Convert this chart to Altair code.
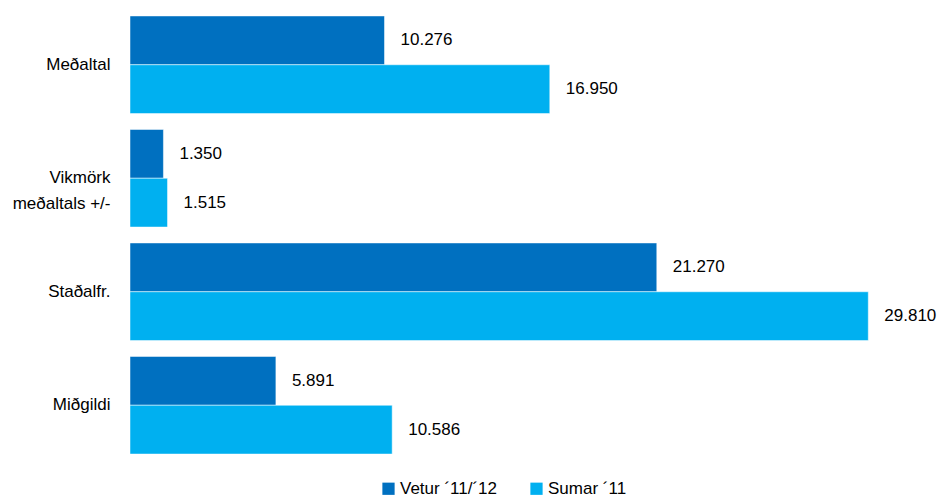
import altair as alt
import pandas as pd

categories = ["Meðaltal", "Vikmörk|meðaltals +/-", "Staðalfr.", "Miðgildi"]
series = ["Vetur ´11/´12", "Sumar ´11"]
vetur = [10276, 1350, 21270, 5891]
sumar = [16950, 1515, 29810, 10586]
colors = ["#0070C0", "#00B0F0"]

rows = []
for c, v, s in zip(categories, vetur, sumar):
    rows.append({"cat": c, "series": series[0], "value": v})
    rows.append({"cat": c, "series": series[1], "value": s})
df = pd.DataFrame(rows)

FONT = "Liberation Sans"

y = alt.Y("cat:N", sort=categories, title=None,
          scale=alt.Scale(paddingInner=0.14, paddingOuter=0.07),
          axis=alt.Axis(domain=False, ticks=False, labelExpr="split(datum.label, '|')",
                        labelFontSize=17, labelFont=FONT, labelColor="#000000",
                        labelPadding=20, labelLineHeight=26))
x = alt.X("value:Q", title=None, scale=alt.Scale(domain=[0, 30000], nice=False),
          axis=None)
yoff = alt.YOffset("series:N", sort=series)

base = alt.Chart(df).encode(y=y, yOffset=yoff)

bars = base.mark_bar(stroke="#ffffff", strokeWidth=0.5).encode(
    x=x,
    color=alt.Color("series:N", sort=series,
                    scale=alt.Scale(domain=series, range=colors),
                    legend=alt.Legend(title=None, orient="none", direction="horizontal",
                                      legendX=250, legendY=472,
                                      symbolType="square", symbolSize=150,
                                      symbolStrokeWidth=0,
                                      labelFontSize=17, labelFont=FONT,
                                      labelColor="#000000", columnPadding=30,
                                      symbolOffset=0, labelOffset=3)),
)

labels = base.mark_text(align="left", baseline="middle", dx=16, fontSize=17,
                        font=FONT, color="#000000").encode(
    x=x,
    text="label:N",
).transform_calculate(
    label="replace(format(datum.value, ','), ',', '.')"
)

chart = (bars + labels).properties(
    width=743, height=454,
    autosize=alt.AutoSizeParams(type="none"),
    padding={"left": 122, "top": 0, "right": 64, "bottom": 35},
).configure_view(stroke=None)

chart.save("out.html", embed_options={"renderer": "svg", "actions": False})
